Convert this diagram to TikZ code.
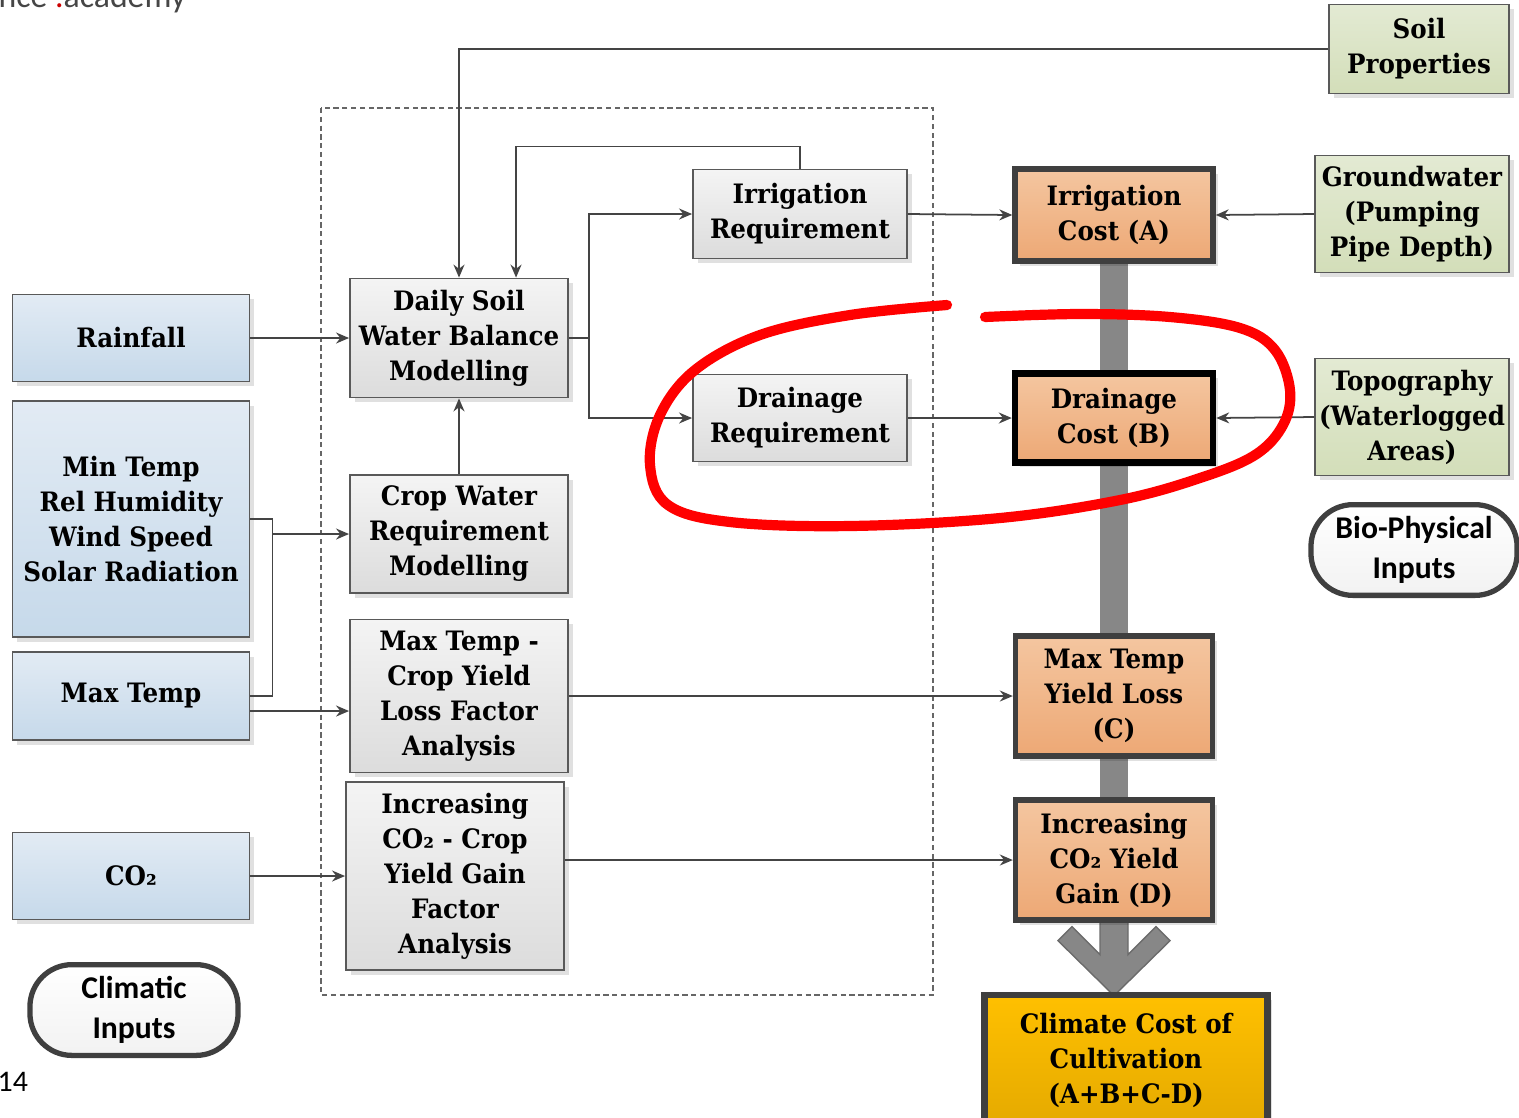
\documentclass[tikz,border=0pt]{standalone}
\usepackage{fontspec}
\setmainfont[FakeStretch=0.92]{DejaVu Serif}
\newfontfamily\pillfont{Carlito}
\usepackage{tikz}
\usetikzlibrary{arrows.meta,positioning,calc,shadows,backgrounds}
\definecolor{linegray}{HTML}{444444}
\definecolor{edgegray}{HTML}{595959}
\definecolor{darkedge}{HTML}{3F3F3F}
\definecolor{climtop}{HTML}{E2EBF4}
\definecolor{climbot}{HTML}{C6D9EA}
\definecolor{proctop}{HTML}{F4F4F4}
\definecolor{procbot}{HTML}{DCDCDC}
\definecolor{costtop}{HTML}{F4C6A0}
\definecolor{costbot}{HTML}{EDA875}
\definecolor{soiltop}{HTML}{E3EAD3}
\definecolor{soilbot}{HTML}{D3DEB9}
\definecolor{totaltop}{HTML}{FFC000}
\definecolor{totalbot}{HTML}{E5AA00}
\newcommand\boxfont{\fontsize{7.6}{9.96}\selectfont\bfseries}
\tikzset{
	basebox/.style={align=center, inner sep=1pt, font=\boxfont,
		drop shadow={shadow xshift=1.3pt, shadow yshift=-1.3pt, fill=black, opacity=0.12}},
	climbox/.style={basebox, draw=edgegray, line width=0.5pt,
		top color=climtop, bottom color=climbot},
	procbox/.style={basebox, draw=edgegray, line width=0.5pt,
		top color=proctop, bottom color=procbot},
	costbox/.style={basebox, draw=darkedge, line width=1.5pt,
		top color=costtop, bottom color=costbot},
	soilbox/.style={basebox, draw=edgegray, line width=0.5pt,
		top color=soiltop, bottom color=soilbot},
	pill/.style={draw=darkedge, line width=1.5pt, rounded corners=0.42cm,
		top color=white, bottom color=gray!10,
		align=center, font=\pillfont\bfseries\fontsize{9}{11.4}\selectfont},
	conn/.style={-{Stealth[length=1.3mm,width=1.1mm]}, linegray, line width=0.5pt},
	plainline/.style={linegray, line width=0.5pt},
}
\begin{document}
\begin{tikzpicture}[x=0.01cm, y=-0.01cm]
\useasboundingbox (0,0) rectangle (1519,1117);

%% -- stray page text
\node[anchor=base west, inner sep=0, font=\pillfont\fontsize{9.6}{9.6}\selectfont,
	text=gray!55!black] (site) at (-2,7) {nce \textcolor{red!80!black}{.}academy};
\node[anchor=base west, inner sep=0, font=\pillfont\fontsize{8.5}{8.5}\selectfont] (pgno)
	at (-3,1091) {14};

%% -- grouping frame
\draw[gray!80!black, line width=0.4pt, dash pattern=on 1.5pt off 1pt] (321,108) rectangle (933,995);

%% -- climatic inputs
\node[climbox, minimum width=2.37cm, minimum height=0.87cm] (rain) at (131,338) {Rainfall};
\node[climbox, minimum width=2.37cm, minimum height=2.36cm] (mint) at (131,519)
	{Min Temp\\Rel Humidity\\Wind Speed\\Solar Radiation};
\node[climbox, minimum width=2.37cm, minimum height=0.88cm] (maxt) at (131,696) {Max Temp};
\node[climbox, minimum width=2.37cm, minimum height=0.87cm] (co2) at (131,876) {CO₂};
\node[pill, minimum width=2.08cm, minimum height=0.89cm] (clim) at (134,1010) {Climatic\\Inputs};

%% -- modelling steps
\node[procbox, minimum width=2.18cm, minimum height=1.19cm] (dsw) at (459,338)
	{Daily Soil\\Water Balance\\Modelling};
\node[procbox, minimum width=2.18cm, minimum height=1.18cm] (cwr) at (459,534)
	{Crop Water\\Requirement\\Modelling};
\node[procbox, minimum width=2.18cm, minimum height=1.53cm] (mtl) at (459,696)
	{Max Temp -\\Crop Yield\\Loss Factor\\Analysis};
\node[procbox, minimum width=2.18cm, minimum height=1.88cm] (cgf) at (455,876)
	{Increasing\\CO₂ - Crop\\Yield Gain\\Factor\\Analysis};
\node[procbox, minimum width=2.14cm, minimum height=0.89cm] (irq) at (800,214)
	{Irrigation\\Requirement};
\node[procbox, minimum width=2.14cm, minimum height=0.87cm] (drq) at (800,418)
	{Drainage\\Requirement};

%% -- cost terms
\node[costbox, minimum width=1.98cm, minimum height=0.92cm] (ica) at (1114,215)
	{Irrigation\\Cost (A)};
\node[costbox, draw=black, line width=1.8pt, minimum width=1.98cm, minimum height=0.89cm]
	(dcb) at (1114,418) {Drainage\\Cost (B)};
\node[costbox, minimum width=1.97cm, minimum height=1.20cm] (myl) at (1114,696)
	{Max Temp\\Yield Loss\\(C)};
\node[costbox, minimum width=1.97cm, minimum height=1.20cm] (gaind) at (1114,860)
	{Increasing\\CO₂ Yield\\Gain (D)};
\node[costbox, line width=1.8pt, top color=totaltop, bottom color=totalbot,
	minimum width=2.83cm, minimum height=1.30cm] (total) at (1126,1060)
	{Climate Cost of\\Cultivation\\(A+B+C-D)};

%% -- bio-physical inputs
\node[soilbox, minimum width=1.80cm, minimum height=0.89cm] (soil) at (1419,49)
	{Soil\\Properties};
\node[soilbox, minimum width=1.94cm, minimum height=1.17cm] (gw) at (1412,214)
	{Groundwater\\(Pumping\\Pipe Depth)};
\node[soilbox, minimum width=1.94cm, minimum height=1.17cm] (topo) at (1412,417)
	{Topography\\(Waterlogged\\Areas)};
\node[pill, minimum width=2.06cm, minimum height=0.90cm] (bio) at (1414,550)
	{Bio-Physical\\Inputs};

%% -- cost bar and summing arrow
\begin{scope}[on background layer]
	\draw[black!47, line width=0.28cm] (ica.center) -- (gaind.center);
	\begin{scope}[shift={(gaind.south)}]
		\filldraw[fill=black!47, draw=black!58, line width=0.4pt]
		(-14,-2) -- (-14,32) -- (-42,4) -- (-56,18) -- (0,73) -- (56,18) -- (42,4)
		-- (14,32) -- (14,-2) -- cycle;
	\end{scope}
\end{scope}

%% -- connectors
\draw[conn] (soil.west) -| (dsw.north);
\draw[conn] (irq.north) -- ++(0,-22) -| ([xshift=0.57cm]dsw.north);
\draw[conn] (dsw.east) -- ++(20,0) coordinate (split) |- (irq.west);
\draw[conn] (split) |- (drq.west);
\draw[conn] (rain.east) -- (dsw.west);
\draw[conn] (cwr.north) -- (dsw.south);
\draw[plainline] (mint.east) -- ++(22,0) coordinate (jn) |- (maxt.east);
\draw[conn] (jn |- cwr.west) -- (cwr.west);
\path ([yshift=-0.15cm]maxt.east) coordinate (mx);
\draw[conn] (mx) -- (mx -| mtl.west);
\draw[conn] (co2.east) -- (cgf.west);
\draw[conn] (irq.east) -- (ica.west);
\draw[conn] (drq.east) -- (dcb.west);
\draw[conn] (gw.west) -- (ica.east);
\draw[conn] (topo.west) -- (dcb.east);
\draw[conn] (mtl.east) -- (myl.west);
\draw[conn] (gaind.west -| cgf.east) -- (gaind.west);

%% -- hand drawn loop
\draw[red, line width=2.9pt, line cap=round] plot[smooth, tension=0.6] coordinates {
	(947,305) (850,315) (760,335) (695,370) (660,415) (650,465) (668,505)
	(730,522) (850,526) (1000,518) (1120,500) (1200,478) (1255,455) (1283,425)
	(1290,390) (1275,350) (1240,328) (1170,317) (1080,314) (985,317)};

\end{tikzpicture}
\end{document}
